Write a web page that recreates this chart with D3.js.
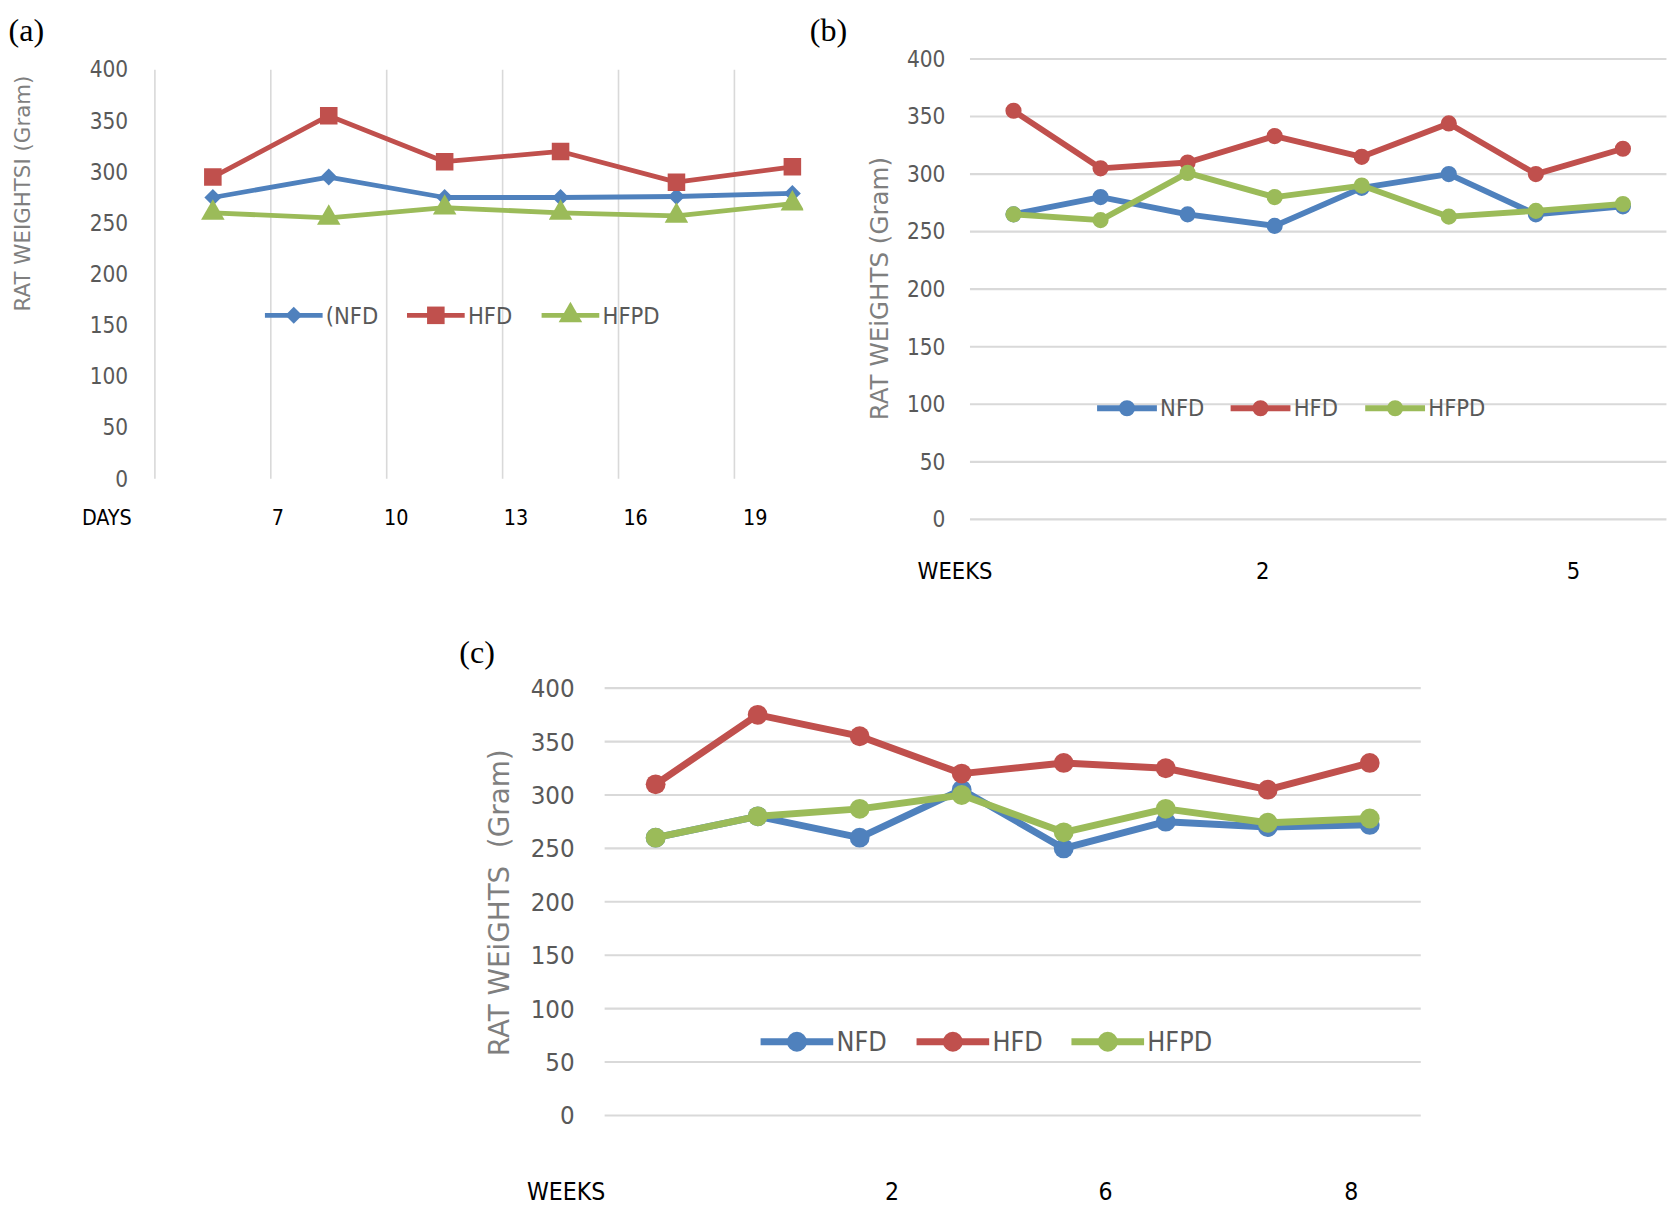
<!DOCTYPE html>
<html><head><meta charset="utf-8">
<script src="https://cdn.jsdelivr.net/npm/d3@7"></script>
<style>body{margin:0;background:#fff} svg{display:block}</style>
</head><body>
<svg id="chart" width="1675" height="1215" viewBox="0 0 1568 1137"></svg>
<script>
// ---------- data ----------
const seriesNames = ["NFD", "HFD", "HFPD"];
const legendNamesA = ["(NFD", "HFD", "HFPD"];
const seriesColors = ["#4F81BD", "#C0504D", "#9BBB59"];
const yTicks = [0, 50, 100, 150, 200, 250, 300, 350, 400];

// (a) days
const daysSlots = ["s1", "s2", "s3", "s4", "s5", "s6", "s7"];
const daysNFD = [275, 295, 275, 275, 276, 279];
const daysHFD = [295, 355, 310, 320, 290, 305];
const daysHFPD = [260, 255, 265, 260, 257, 269];
const daysTickLabels = ["7", "10", "13", "16", "19"];

// (b) weeks
const weeksBSlots = ["w1", "w2", "w3", "w4", "w5", "w6", "w7", "w8"];
const weeksBNFD = [265, 280, 265, 255, 288, 300, 265, 272];
const weeksBHFD = [355, 305, 310, 333, 315, 344, 300, 322];
const weeksBHFPD = [265, 260, 301, 280, 290, 263, 268, 274];
const weeksBTickLabels = ["2", "5"];

// (c) weeks
const weeksCSlots = ["w1", "w2", "w3", "w4", "w5", "w6", "w7", "w8"];
const weeksCNFD = [260, 280, 260, 305, 250, 275, 270, 272];
const weeksCHFD = [310, 375, 355, 320, 330, 325, 305, 330];
const weeksCHFPD = [260, 280, 287, 300, 265, 287, 274, 278];
const weeksCTickLabels = ["2", "6", "8"];

// ---------- layout ----------
const svg = d3.select("#chart");
const tickFont = "'DejaVu Sans Condensed', 'Liberation Sans Narrow', 'DejaVu Sans', sans-serif";
const titleFont = "'DejaVu Sans', Lato, sans-serif";

function panel(cfg) {
  const g = svg.append("g");
  if (cfg.clipRight) {
    const id = "clip" + cfg.tag;
    svg.append("clipPath").attr("id", id).append("rect")
      .attr("x", 0).attr("y", 0).attr("width", cfg.clipRight).attr("height", 1137);
    g.attr("clip-path", `url(#${id})`);
  }
  const x = d3.scaleBand().domain(cfg.slots).range([cfg.left, cfg.right]);
  const y = d3.scaleLinear().domain([0, 400]).range([cfg.bottom, cfg.top]);

  // panel letter
  g.append("text").attr("x", cfg.letterX).attr("y", cfg.letterY)
    .attr("font-family", "'Liberation Serif', 'DejaVu Serif', serif")
    .attr("font-size", 30).attr("fill", "#000").text(cfg.letter);

  // gridlines
  if (cfg.vertical) {
    g.append("g").selectAll("line").data(cfg.slots.slice(0, cfg.vLines)).join("line")
      .attr("x1", d => x(d)).attr("x2", d => x(d))
      .attr("y1", y(400)).attr("y2", y(0))
      .attr("stroke", "#d9d9d9").attr("stroke-width", 1.5);
  } else {
    g.append("g").selectAll("line").data(yTicks).join("line")
      .attr("x1", cfg.left).attr("x2", cfg.right)
      .attr("y1", d => y(d)).attr("y2", d => y(d))
      .attr("stroke", "#d9d9d9").attr("stroke-width", 2);
  }

  // y tick labels
  g.append("g").selectAll("text").data(yTicks).join("text")
    .attr("x", cfg.tickRight).attr("y", d => y(d)).attr("dy", "0.35em")
    .attr("text-anchor", "end").attr("font-family", tickFont)
    .attr("font-size", cfg.tickSize).attr("fill", "#595959").text(d => d);

  // y title
  g.append("text")
    .attr("transform", `translate(${cfg.titleX},${cfg.titleY}) rotate(-90)`)
    .attr("text-anchor", "middle").attr("dy", "0.35em")
    .attr("font-family", titleFont).attr("font-size", cfg.titleSize)
    .attr("fill", "#7f7f7f").style("white-space", "pre").text(cfg.title);

  // x labels
  g.append("text").attr("x", cfg.xTitleX).attr("y", cfg.xLabelY)
    .attr("text-anchor", "middle").attr("dy", "0.35em")
    .attr("font-family", tickFont).attr("font-size", cfg.xLabelSize)
    .attr("fill", "#000").text(cfg.xTitle);
  g.append("g").selectAll("text").data(cfg.xLabels).join("text")
    .attr("x", (d, i) => cfg.xLabelPos[i]).attr("y", cfg.xLabelY)
    .attr("text-anchor", "middle").attr("dy", "0.35em")
    .attr("font-family", tickFont).attr("font-size", cfg.xLabelSize)
    .attr("fill", "#000").text(d => d);

  // series
  const line = d3.line().x((d, i) => x(cfg.slots[i]) + x.bandwidth() / 2).y(d => y(d));
  cfg.series.forEach((vals, si) => {
    const col = seriesColors[si];
    g.append("path").datum(vals).attr("d", line).attr("fill", "none")
      .attr("stroke", col).attr("stroke-width", cfg.lineW)
      .attr("stroke-linejoin", "round");
    g.append("g").selectAll("path").data(vals).join("path")
      .attr("transform", (d, i) => `translate(${x(cfg.slots[i]) + x.bandwidth() / 2},${y(d)})`)
      .attr("d", d3.symbol().type(cfg.symbols[si]).size(cfg.symSize[si]))
      .attr("fill", col);
  });

  // legend
  cfg.legendX.forEach((lx, si) => {
    const col = seriesColors[si];
    const lg = g.append("g");
    lg.append("line").attr("x1", lx).attr("x2", lx + cfg.legendLen)
      .attr("y1", cfg.legendY).attr("y2", cfg.legendY)
      .attr("stroke", col).attr("stroke-width", cfg.lineW);
    lg.append("path")
      .attr("transform", `translate(${lx + cfg.legendLen / 2},${cfg.legendY})`)
      .attr("d", d3.symbol().type(cfg.symbols[si]).size(cfg.symSize[si]))
      .attr("fill", col);
    lg.append("text").attr("x", lx + cfg.legendLen + 3).attr("y", cfg.legendY)
      .attr("dy", "0.35em").attr("font-family", tickFont)
      .attr("font-size", cfg.legendSize).attr("fill", "#595959")
      .text(cfg.legendNames[si]);
  });
}

panel({
  tag: "a", letter: "(a)", letterX: 8, letterY: 38, clipRight: 752,
  slots: daysSlots, left: 145, right: 904.5, top: 65, bottom: 448,
  vertical: true, vLines: 7,
  tickRight: 120, tickSize: 21,
  title: "RAT WEIGHTSI (Gram)", titleX: 21, titleY: 181, titleSize: 20,
  xTitle: "DAYS", xTitleX: 100, xLabelY: 484, xLabelSize: 20,
  xLabels: daysTickLabels, xLabelPos: [260, 371, 483, 595, 707],
  series: [daysNFD, daysHFD, daysHFPD],
  symbols: [d3.symbolDiamond2, d3.symbolSquare, d3.symbolTriangle],
  symSize: [160, 270, 210], lineW: 4.5,
  legendX: [248, 381, 507], legendLen: 54, legendY: 295, legendSize: 22,
  legendNames: legendNamesA
});

panel({
  tag: "b", letter: "(b)", letterX: 758, letterY: 38,
  slots: weeksBSlots, left: 908, right: 1560, top: 55, bottom: 486,
  vertical: false,
  tickRight: 885, tickSize: 21,
  title: "RAT WEiGHTS (Gram)", titleX: 823, titleY: 270, titleSize: 23,
  xTitle: "WEEKS", xTitleX: 894, xLabelY: 534, xLabelSize: 22,
  xLabels: weeksBTickLabels, xLabelPos: [1182, 1473],
  series: [weeksBNFD, weeksBHFD, weeksBHFPD],
  symbols: [d3.symbolCircle, d3.symbolCircle, d3.symbolCircle],
  symSize: [180, 180, 180], lineW: 5.5,
  legendX: [1027, 1152, 1278], legendLen: 56, legendY: 382, legendSize: 22,
  legendNames: seriesNames
});

panel({
  tag: "c", letter: "(c)", letterX: 430, letterY: 620,
  slots: weeksCSlots, left: 566, right: 1330, top: 644, bottom: 1044,
  vertical: false,
  tickRight: 538, tickSize: 24,
  title: "RAT WEiGHTS  (Gram)", titleX: 467, titleY: 845, titleSize: 26,
  xTitle: "WEEKS", xTitleX: 530, xLabelY: 1115, xLabelSize: 23,
  xLabels: weeksCTickLabels, xLabelPos: [835, 1035, 1265],
  series: [weeksCNFD, weeksCHFD, weeksCHFPD],
  symbols: [d3.symbolCircle, d3.symbolCircle, d3.symbolCircle],
  symSize: [270, 270, 270], lineW: 6.5,
  legendX: [712, 858, 1003], legendLen: 68, legendY: 975, legendSize: 25,
  legendNames: seriesNames
});
</script>
</body></html>
